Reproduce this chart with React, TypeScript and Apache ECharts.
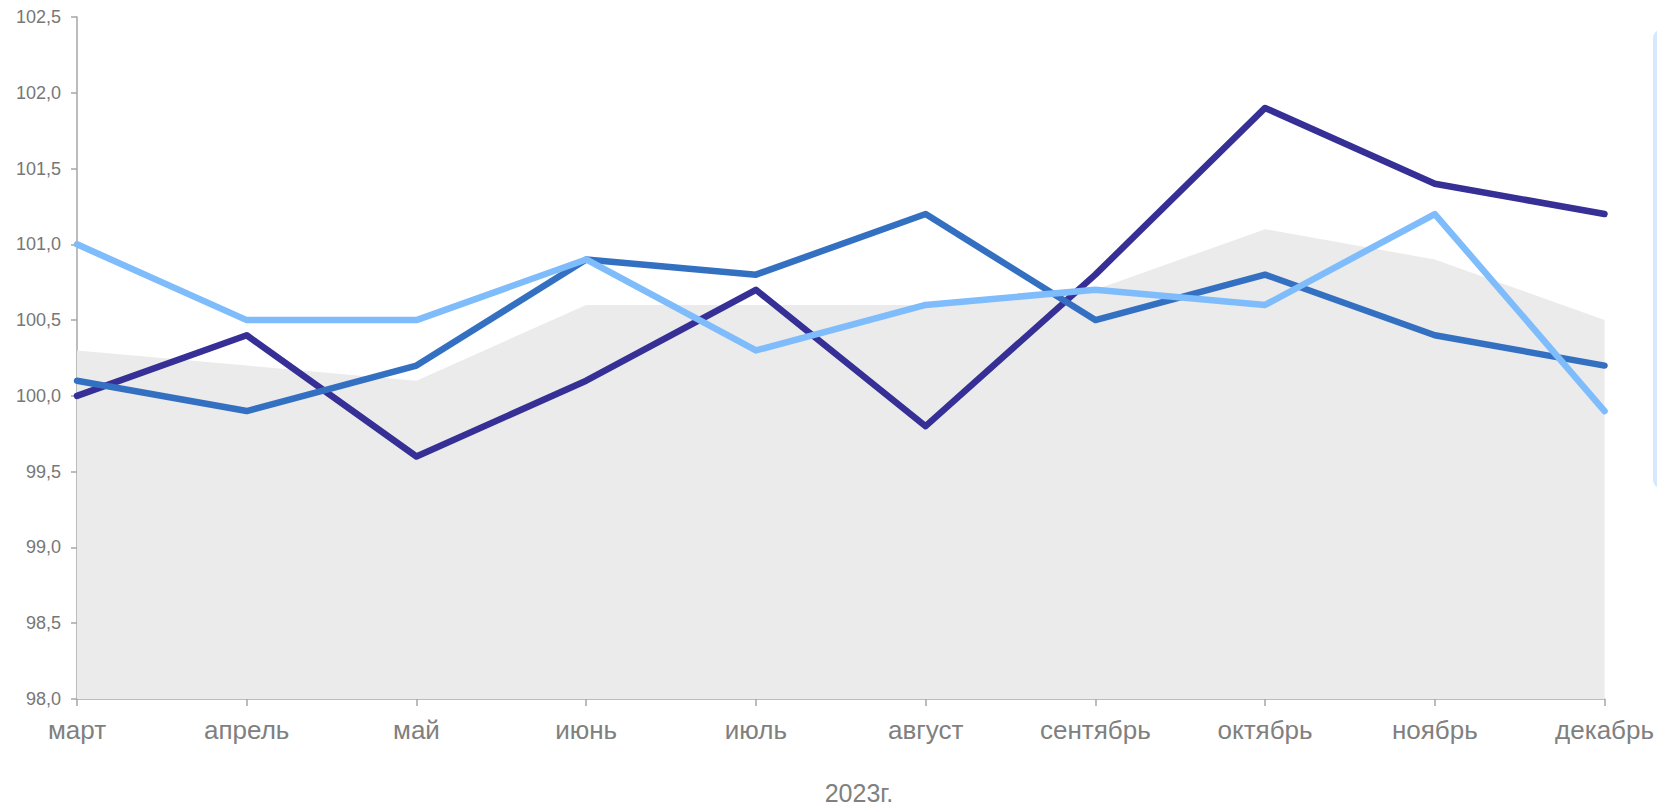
import React, { useEffect, useRef } from "react";
import * as echarts from "echarts";

const months = ["март", "апрель", "май", "июнь", "июль", "август", "сентябрь", "октябрь", "ноябрь", "декабрь"];
const areaValues = [100.3, 100.2, 100.1, 100.6, 100.6, 100.6, 100.7, 101.1, 100.9, 100.5];
const navyValues = [100.0, 100.4, 99.6, 100.1, 100.7, 99.8, 100.8, 101.9, 101.4, 101.2];
const blueValues = [100.1, 99.9, 100.2, 100.9, 100.8, 101.2, 100.5, 100.8, 100.4, 100.2];
const lightValues = [101.0, 100.5, 100.5, 100.9, 100.3, 100.6, 100.7, 100.6, 101.2, 99.9];
const xAxisTitle = "2023г.";

export default function App() {
  const ref = useRef<HTMLDivElement>(null);
  useEffect(() => {
    if (!ref.current) return;
    const chart = echarts.init(ref.current, null, { renderer: "svg" });
    const lineSeries = (data: number[], color: string, z: number) => ({
      type: "line",
      data,
      symbol: "none",
      z,
      lineStyle: { color, width: 6.5, cap: "round", join: "round" },
    });
    chart.setOption({
      animation: false,
      backgroundColor: "#ffffff",
      textStyle: { fontFamily: "Liberation Sans, Arial, sans-serif" },
      grid: { left: 77, right: 51, top: 17, bottom: 107, containLabel: false },
      xAxis: {
        type: "category",
        data: months,
        boundaryGap: false,
        axisLine: { lineStyle: { color: "#a6a6a6", width: 1.5 } },
        axisTick: { show: true, length: 7, lineStyle: { color: "#a6a6a6", width: 1.5 }, alignWithLabel: true },
        axisLabel: { color: "#808080", fontSize: 26, margin: 18, interval: 0 },
        splitLine: { show: false },
      },
      yAxis: {
        type: "value",
        min: 98,
        max: 102.5,
        interval: 0.5,
        axisLine: { show: true, lineStyle: { color: "#a6a6a6", width: 1.5 } },
        axisTick: { show: true, length: 6, lineStyle: { color: "#a6a6a6", width: 1.5 } },
        axisLabel: {
          color: "#777777",
          fontSize: 18,
          margin: 16,
          formatter: (v: number) => v.toFixed(1).replace(".", ","),
        },
        splitLine: { show: false },
      },
      series: [
        {
          type: "line",
          data: areaValues,
          symbol: "none",
          z: 1,
          lineStyle: { width: 0 },
          areaStyle: { color: "#ebebeb", opacity: 1, origin: "start" },
        },
        lineSeries(navyValues, "#352f96", 3),
        lineSeries(blueValues, "#3470c2", 4),
        lineSeries(lightValues, "#7fbcfb", 5),
      ],
      graphic: [
        {
          type: "text",
          x: 859,
          y: 793,
          style: {
            text: xAxisTitle,
            fill: "#808080",
            fontSize: 25,
            fontFamily: "Liberation Sans, Arial, sans-serif",
            align: "center",
            verticalAlign: "middle",
          },
        },
        {
          type: "rect",
          shape: { x: 1653, y: 30, width: 40, height: 458, r: 8 },
          style: { fill: "#d6e8fd" },
        },
      ],
    });
    return () => chart.dispose();
  }, []);
  return <div ref={ref} style={{ position: "fixed", left: 0, top: 0, width: 1657, height: 806 }} />;
}
